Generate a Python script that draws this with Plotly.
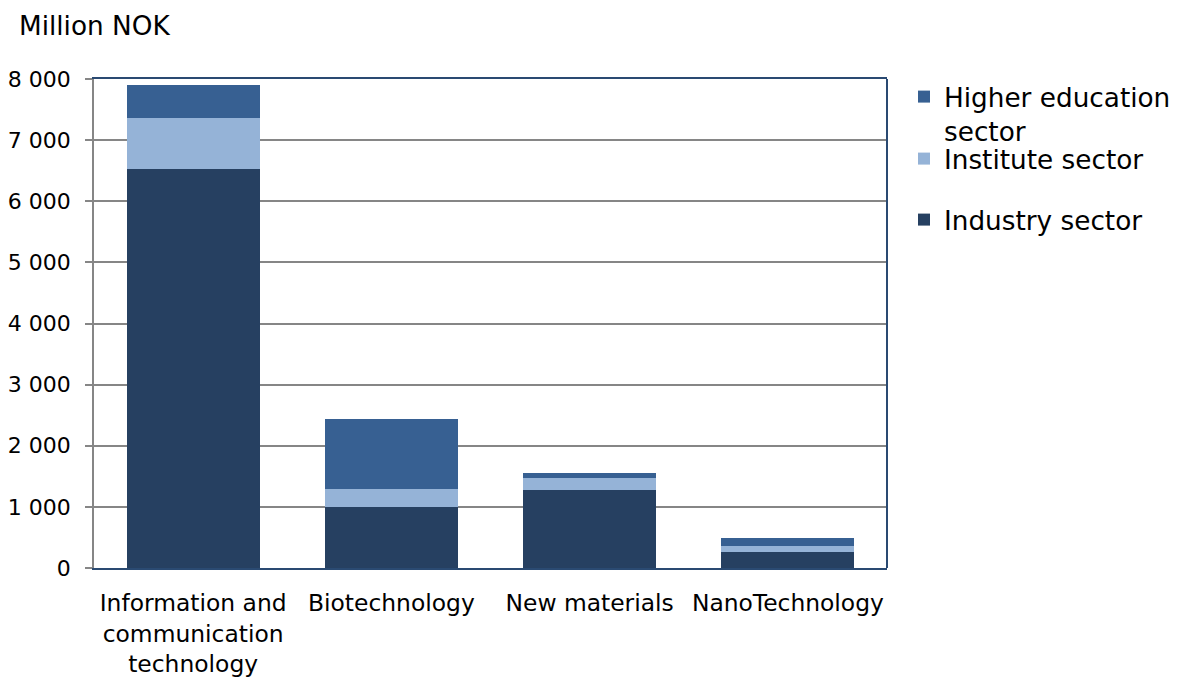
import plotly.graph_objects as go

categories = ["Information and<br>communication<br>technology", "Biotechnology", "New materials", "NanoTechnology"]
industry = [6530, 1000, 1270, 260]
institute = [830, 300, 200, 95]
higher_ed = [540, 1130, 90, 130]

series_names = ["Industry sector", "Institute sector", "Higher education<br>sector"]
colors = ["#264061", "#95B3D7", "#376092"]

FONT = "DejaVu Sans, Verdana, sans-serif"
OFF = 8  # page body margin
W, H = 1178 - OFF, 679 - OFF
L, R, T, B = 94, 887, 79, 568  # plot area in page pixels
pw, ph = R - L, B - T

def py(p):
    return (B - p) / ph

def px(p):
    return (p - L) / pw

fig = go.Figure()
for name, vals, col, leg in zip(series_names, [industry, institute, higher_ed], colors, ["legend3", "legend2", "legend"]):
    fig.add_trace(go.Bar(x=categories, y=vals, name=name, marker=dict(color=col, line=dict(width=0)),
                         legend=leg, showlegend=True))

legend_common = dict(font=dict(family=FONT, size=26.3, color="#000000"), bgcolor="rgba(0,0,0,0)",
                     xanchor="left", yanchor="middle", itemwidth=30, valign="top", visible=True,
                     borderwidth=0)
fig.update_layout(
    width=W, height=H,
    margin=dict(l=L - OFF, r=1178 - R, t=T - OFF, b=679 - B, autoexpand=False),
    barmode="stack", bargap=0.33,
    plot_bgcolor="white", paper_bgcolor="white",
    separators=". ",
    showlegend=True,
    font=dict(family=FONT, size=22, color="#000000"),
    legend=dict(x=px(904), y=py(114), **legend_common),
    legend2=dict(x=px(904), y=py(159), **legend_common),
    legend3=dict(x=px(904), y=py(220), **legend_common),
    xaxis=dict(showline=True, linecolor="#2A4A72", linewidth=2, mirror=True, ticks="",
               tickfont=dict(family=FONT, size=23.4), ticklabelstandoff=13, automargin=False),
    yaxis=dict(range=[0, 8000], dtick=1000, tickformat=",d", showgrid=True, gridcolor="#868686",
               gridwidth=1.5, showline=True, linecolor="#868686", linewidth=1.5, ticks="outside",
               ticklen=7, tickcolor="#868686", tickwidth=1.5, tickfont=dict(family=FONT, size=22),
               ticklabelstandoff=10, zeroline=False, automargin=False),
    shapes=[dict(type="line", xref="paper", yref="paper", x0=1, x1=1, y0=0, y1=1,
                 line=dict(color="#2A4A72", width=2))],
    annotations=[dict(text="Million NOK", xref="paper", yref="paper", x=px(17), y=py(26),
                      xanchor="left", yanchor="middle", showarrow=False,
                      font=dict(family=FONT, size=26.3, color="#000000"))],
)

fig.write_html("out.html")
